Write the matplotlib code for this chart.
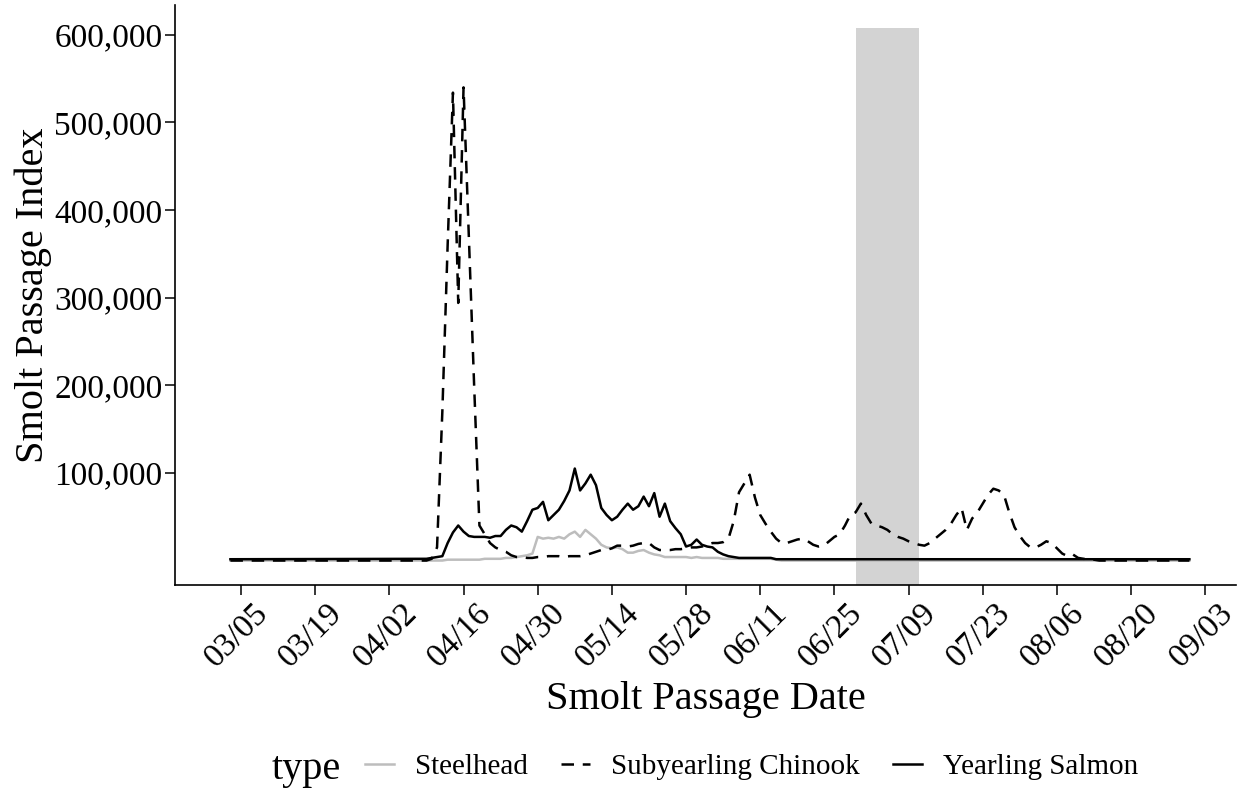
import pandas as pd
import matplotlib.pyplot as plt
import matplotlib.dates as mdates
import matplotlib.transforms as mtransforms
from matplotlib.lines import Line2D
from matplotlib.ticker import FuncFormatter

plt.rcParams['font.family'] = ['Liberation Serif', 'DejaVu Serif']

# season covered by the index
season_start = "2021-03-03"
season_end = "2021-08-31"

# daily passage index, active part of each run
chinook_start = "2021-04-09"
chinook = [0, 2000, 15000, 170000, 360000, 534000, 294000, 540000, 370000, 200000,
           40000, 30000, 20000, 15000, 12000, 10000, 6000, 4000,
           4000, 3000, 3000, 4000, 4000, 5000, 5000, 5000, 4000, 5000,
           5000, 5000, 6000, 8000, 10000, 12000, 12000, 14000, 17000, 17000,
           16000, 17000, 19000, 20000, 20000, 15000, 12000, 12000, 12000, 13000,
           13000, 14000, 15000, 15000, 16000, 18000, 20000, 20000, 21000, 25000,
           45000, 78000, 88000, 98000, 72000, 52000, 42000, 33000, 25000, 20000,
           20000, 22000, 24000, 25000, 22000, 18000, 16000, 17000, 22000, 27000,
           30000, 40000, 52000, 55000, 65000, 52000, 42000, 40000, 38000, 35000,
           30000, 27000, 25000, 22000, 20000, 18000, 17000, 20000, 25000, 30000,
           35000, 42000, 52000, 60000, 35000, 48000, 55000, 65000, 75000, 82000,
           80000, 75000, 55000, 38000, 28000, 20000, 15000, 15000, 18000, 22000,
           20000, 14000, 8000, 5000, 7000, 3000, 2000, 2000, 1000, 0]

steelhead_start = "2021-04-12"
steelhead = [0, 1000, 1000, 1000, 1000, 1000, 1000, 1000, 2000, 2000, 2000,
             2000, 3000, 3000, 4000, 5000, 6000, 8000, 27000, 25000, 26000,
             25000, 27000, 25000, 30000, 33000, 27000, 35000, 30000, 25000, 18000,
             15000, 14000, 15000, 13000, 9000, 9000, 11000, 12000, 9000, 7000,
             6000, 4000, 4000, 4000, 4000, 4000, 3000, 4000, 3000, 3000,
             3000, 3000, 2000, 2000, 2000, 2000, 2000, 2000, 2000, 2000,
             2000, 2000, 1000, 0]

yearling_start = "2021-04-09"
yearling = [2000, 3000, 4000, 5000, 20000, 32000, 40000, 33000, 28000, 27000,
            27000, 27000, 26000, 28000, 28000, 35000, 40000, 38000, 33000, 45000,
            58000, 60000, 67000, 46000, 52000, 58000, 68000, 80000, 105000, 80000,
            88000, 98000, 86000, 60000, 52000, 46000, 50000, 58000, 65000, 58000,
            62000, 73000, 62000, 77000, 50000, 65000, 45000, 37000, 30000, 16000,
            18000, 24000, 18000, 16000, 15000, 10000, 7000, 5000, 4000, 3000,
            3000, 3000, 3000, 3000, 3000, 3000, 1500]
yearling_base = 1500

# shaded window
shade_from = "2021-06-29"
shade_to = "2021-07-11"
shade_top = 608000

tick_dates = pd.date_range("2021-03-05", "2021-09-03", freq="14D")


def full_run(start, vals, base):
    d = pd.date_range(start, periods=len(vals), freq="D")
    dates = [pd.Timestamp(season_start)] + list(d) + [pd.Timestamp(season_end)]
    values = [base] + list(vals) + [base]
    return dates, values


fig = plt.figure(figsize=(12.38, 7.92), dpi=100)
ax = fig.add_axes([175 / 1238, 1 - 585 / 792, 1061 / 1238, 580 / 792])

ax.fill_between([pd.Timestamp(shade_from), pd.Timestamp(shade_to)], -1e6, shade_top,
                color="#d3d3d3", lw=0, zorder=1)

d, v = full_run(steelhead_start, steelhead, 0)
ax.plot(d, v, color="#bdbdbd", lw=1.8, zorder=2)
d, v = full_run(chinook_start, chinook, 0)
ax.plot(d, v, color="black", lw=1.8, dashes=(5, 3.5), zorder=3)
d, v = full_run(yearling_start, yearling, yearling_base)
ax.plot(d, v, color="black", lw=1.8, zorder=4)

x0 = mdates.date2num(pd.Timestamp("2021-03-05"))
ax.set_xlim(x0 - 12.46, x0 + 187.8)
ax.set_ylim(-27900, 634000)

ax.set_xticks(tick_dates)
ax.xaxis.set_major_formatter(mdates.DateFormatter("%m/%d"))
ax.set_yticks([100000, 200000, 300000, 400000, 500000, 600000])
ax.yaxis.set_major_formatter(FuncFormatter(lambda y, p: f"{int(y):,}"))

for s in ["top", "right"]:
    ax.spines[s].set_visible(False)
for s in ["left", "bottom"]:
    ax.spines[s].set_linewidth(1.2)

ax.tick_params(axis="both", length=7, width=1.1, labelsize=24, colors="black")
ax.tick_params(axis="y", pad=2)
ax.tick_params(axis="x", pad=2)

offset = mtransforms.ScaledTranslation(0.12, 0, fig.dpi_scale_trans)
for lab in ax.get_xticklabels():
    lab.set_rotation(45)
    lab.set_ha("right")
    lab.set_va("top")
    lab.set_rotation_mode("anchor")
    lab.set_transform(lab.get_transform() + offset)

ax.set_xlabel("Smolt Passage Date", fontsize=29)
ax.xaxis.set_label_coords(0.5, -0.165)
ax.xaxis.label.set_va("top")
ax.set_ylabel("Smolt Passage Index", fontsize=29)
ax.yaxis.set_label_coords(-0.116, 0.5)

handles = [Line2D([], [], color="#bdbdbd", lw=1.8),
           Line2D([], [], color="black", lw=1.8, dashes=(5, 3.5)),
           Line2D([], [], color="black", lw=1.8)]
labels = ["Steelhead", "Subyearling Chinook", "Yearling Salmon"]
fig.legend(handles, labels, ncol=3, loc="center", bbox_to_anchor=(0.607, 0.032),
           frameon=False, fontsize=21, handlelength=1.0, handletextpad=0.7,
           columnspacing=1.15)
fig.text(272 / 1238, 1 - 770 / 792, "type", fontsize=29, va="center")

fig.savefig("out.png", dpi=100)
